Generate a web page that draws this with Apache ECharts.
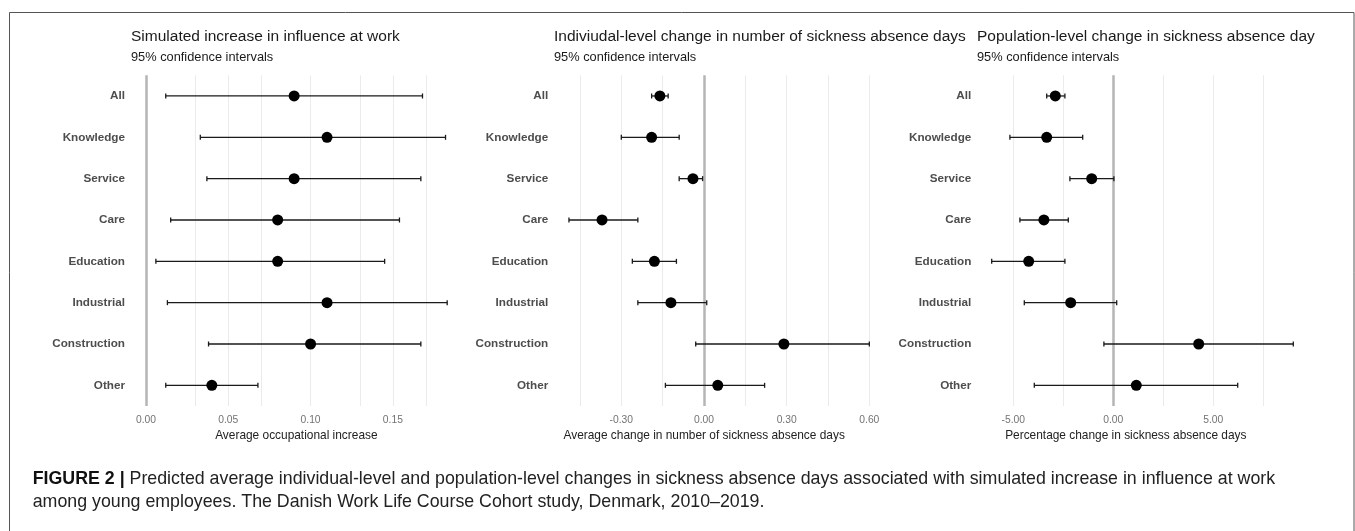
<!DOCTYPE html>
<html>
<head>
<meta charset="utf-8">
<script src="https://cdn.jsdelivr.net/npm/echarts@6/dist/echarts.min.js"></script>
<style>
html,body{margin:0;padding:0;background:#fff;}
#chart{width:1355px;height:531px;}
</style>
</head>
<body>
<div id="chart"></div>
<script>
// ---- data ----
var categories = ['All','Knowledge','Service','Care','Education','Industrial','Construction','Other'];

var p1Est  = [0.090, 0.110, 0.090, 0.080, 0.080, 0.110, 0.100, 0.040];
var p1Low  = [0.012, 0.033, 0.037, 0.015, 0.006, 0.013, 0.038, 0.012];
var p1High = [0.168, 0.182, 0.167, 0.154, 0.145, 0.183, 0.167, 0.068];

var p2Est  = [-0.16, -0.19, -0.04, -0.37, -0.18, -0.12, 0.29, 0.05];
var p2Low  = [-0.19, -0.30, -0.09, -0.49, -0.26, -0.24, -0.03, -0.14];
var p2High = [-0.13, -0.09, -0.005, -0.24, -0.10, 0.01, 0.60, 0.22];

var p3Est  = [-2.90, -3.33, -1.08, -3.47, -4.23, -2.13, 4.27, 1.15];
var p3Low  = [-3.33, -5.17, -2.17, -4.67, -6.08, -4.45, -0.47, -3.95];
var p3High = [-2.42, -1.53, 0.03, -2.25, -2.42, 0.17, 9.00, 6.22];

var p1Ticks = [0, 0.05, 0.10, 0.15];
var p1Grid  = [0.025, 0.05, 0.075, 0.10, 0.125, 0.15, 0.175];
var p2Ticks = [-0.30, 0.00, 0.30, 0.60];
var p2Grid  = [-0.45, -0.30, -0.15, 0.15, 0.30, 0.45, 0.60];
var p3Ticks = [-5, 0, 5];
var p3Grid  = [-5, -2.5, 2.5, 5, 7.5];

var titles = ['Simulated increase in influence at work',
              'Indiviudal-level change in number of sickness absence days',
              'Population-level change in sickness absence days'];
var subtitle = '95% confidence intervals';
var xNames = ['Average occupational increase',
              'Average change in number of sickness absence days',
              'Percentage change in sickness absence days'];
var captionBold = 'FIGURE 2 |';
var captionText = ' Predicted average individual-level and population-level changes in sickness absence days associated with simulated increase in influence at work';
var captionText2 = 'among young employees. The Danish Work Life Course Cohort study, Denmark, 2010\u20132019.';

// ---- chart ----
var FONT = "'Liberation Sans', Arial, sans-serif";
var chart = echarts.init(document.getElementById('chart'), null, {renderer: 'canvas'});

var panels = [
  {est: p1Est, low: p1Low, high: p1High, ticks: p1Ticks, grid: p1Grid,
   min: 0, max: 0.19, interval: 0.05,
   g: {left: 146, width: 312.7}, labMargin: 21, namePad: 12, titleLeft: 131},
  {est: p2Est, low: p2Low, high: p2High, ticks: p2Ticks, grid: p2Grid,
   min: -0.5, max: 0.65, interval: 0.05,
   g: {left: 566.2, width: 316.9}, labMargin: 18, namePad: 41, titleLeft: 554},
  {est: p3Est, low: p3Low, high: p3High, ticks: p3Ticks, grid: p3Grid,
   min: -6.5, max: 9.5, interval: 0.5,
   g: {left: 983.3, width: 320}, labMargin: 12, namePad: 35, titleLeft: 977}
];

var grids = [], xAxes = [], yAxes = [], series = [], titleArr = [];

panels.forEach(function (p, i) {
  grids.push({left: p.g.left, width: p.g.width, top: 75.3, height: 330.7, containLabel: false});
  var ticks = p.ticks;
  xAxes.push({
    type: 'value', gridIndex: i, min: p.min, max: p.max, interval: p.interval,
    axisLine: {show: false}, axisTick: {show: false}, splitLine: {show: false},
    axisLabel: {
      fontFamily: FONT, fontSize: 10.3, color: '#737373', margin: 9,
      showMinLabel: true, showMaxLabel: true,
      formatter: function (v) {
        for (var k = 0; k < ticks.length; k++) {
          if (Math.abs(v - ticks[k]) < 1e-7) return ticks[k].toFixed(2);
        }
        return '';
      }
    },
    name: xNames[i], nameLocation: 'middle', nameGap: 21,
    nameTextStyle: {fontFamily: FONT, fontSize: 11.9, color: '#222', padding: [0, p.namePad, 0, 0]}
  });
  yAxes.push({
    type: 'category', gridIndex: i, data: categories, inverse: true,
    axisLine: {show: false}, axisTick: {show: false}, splitLine: {show: false},
    axisLabel: {fontFamily: FONT, fontSize: 11.7, fontWeight: 'bold', color: '#4d4d4d', margin: p.labMargin}
  });

  // gridlines + zero line
  var ml = p.grid.map(function (v) {
    return {xAxis: v, lineStyle: {color: '#ebebeb', width: 1, type: 'solid'}};
  });
  ml.push({xAxis: 0, lineStyle: {color: '#b5b5b5', width: 2.5, type: 'solid'}});
  series.push({
    type: 'scatter', xAxisIndex: i, yAxisIndex: i, data: [], z: 1, silent: true,
    markLine: {silent: true, z: 1, symbol: ['none', 'none'], label: {show: false}, animation: false, data: ml}
  });

  // error bars
  var ebData = categories.map(function (c, k) { return [k, p.low[k], p.high[k]]; });
  series.push({
    type: 'custom', xAxisIndex: i, yAxisIndex: i, z: 2, silent: true,
    data: ebData,
    encode: {x: [1, 2], y: 0},
    renderItem: function (params, api) {
      var cat = api.value(0);
      var a = api.coord([api.value(1), cat]);
      var b = api.coord([api.value(2), cat]);
      var st = {stroke: '#1a1a1a', lineWidth: 1.3};
      var h = 2.5;
      return {type: 'group', children: [
        {type: 'line', shape: {x1: a[0], y1: a[1], x2: b[0], y2: b[1]}, style: st},
        {type: 'line', shape: {x1: a[0], y1: a[1] - h, x2: a[0], y2: a[1] + h}, style: st},
        {type: 'line', shape: {x1: b[0], y1: b[1] - h, x2: b[0], y2: b[1] + h}, style: st}
      ]};
    }
  });

  // points
  series.push({
    type: 'scatter', xAxisIndex: i, yAxisIndex: i, z: 3, silent: true,
    symbol: 'circle', symbolSize: 11,
    itemStyle: {color: '#000', opacity: 1},
    data: categories.map(function (c, k) { return [p.est[k], c]; })
  });

  var tt = {
    text: titles[i], left: p.titleLeft, top: 29, padding: 0,
    textStyle: {fontFamily: FONT, fontSize: 15.5, fontWeight: 'normal', color: '#1a1a1a', lineHeight: 16}
  };
  if (i === 2) {
    tt.textStyle.width = 343;
    tt.textStyle.overflow = 'truncate';
    tt.textStyle.ellipsis = '';
  }
  titleArr.push(tt);
  titleArr.push({
    text: subtitle, left: p.titleLeft, top: 51, padding: 0,
    textStyle: {fontFamily: FONT, fontSize: 12.8, fontWeight: 'normal', color: '#1a1a1a', lineHeight: 13}
  });
});

var option = {
  animation: false,
  backgroundColor: '#ffffff',
  title: titleArr,
  grid: grids,
  xAxis: xAxes,
  yAxis: yAxes,
  series: series,
  graphic: [
    {type: 'rect', silent: true, z: -10,
     shape: {x: 9.5, y: 12.5, width: 1344.5, height: 600},
     style: {fill: 'none', stroke: '#555', lineWidth: 1}},
    {type: 'text', left: 32.7, top: 468, silent: true,
     style: {
       text: '{b|' + captionBold + '}' + captionText + '\n' + captionText2,
       fontFamily: FONT, fontSize: 17.8, lineHeight: 23, fill: '#222',
       rich: {b: {fontFamily: FONT, fontSize: 17.8, fontWeight: 'bold', fill: '#111', lineHeight: 23}}
     }}
  ]
};
chart.setOption(option);
</script>
</body>
</html>
